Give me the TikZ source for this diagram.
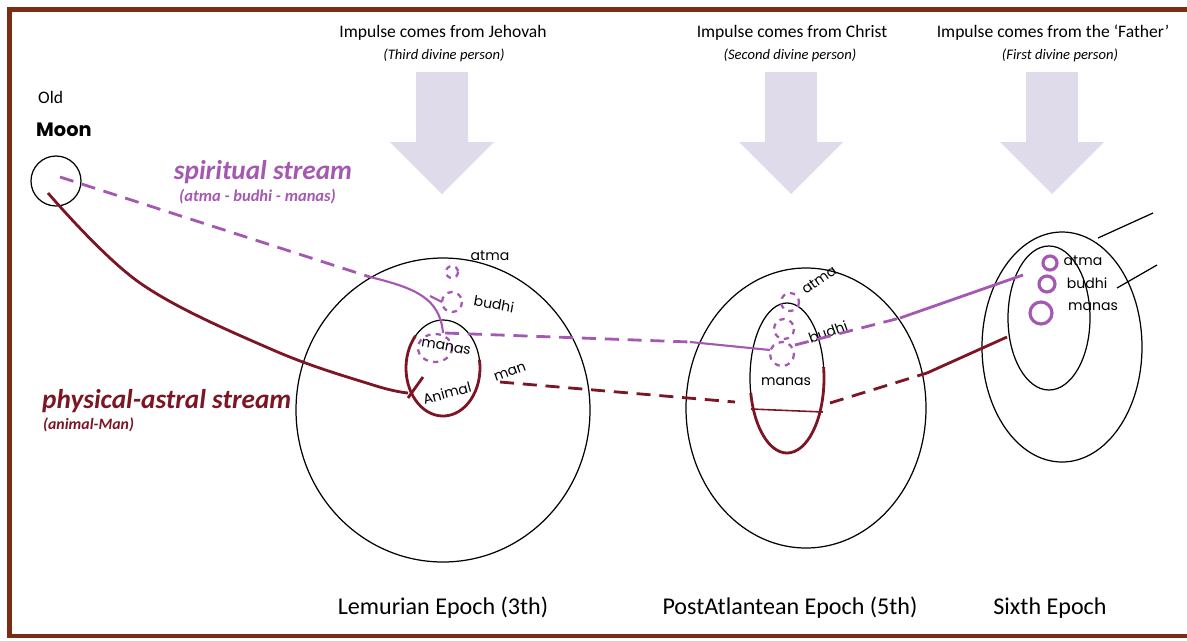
\documentclass[tikz,border=0pt]{standalone}
\usepackage{fontspec}
\setmainfont{Carlito}
\newfontfamily\handfont{Poppins}
\usepackage{tikz}

\definecolor{framecol}{RGB}{122,44,20}
\definecolor{spiritcol}{RGB}{165,88,178}
\definecolor{physcol}{RGB}{125,22,36}
\definecolor{impulsecol}{RGB}{223,219,234}

\tikzset{
  hand/.style={font=\handfont\fontsize{8}{9}\selectfont, inner sep=0pt},
  spirit/.style={spiritcol, line width=1.6pt},
  phys/.style={physcol, line width=1.6pt},
  dashstream/.style={dash pattern=on 8pt off 5pt},
  outline/.style={black, line width=0.7pt}
}

\begin{document}
\begin{tikzpicture}[x=0.02cm, y=-0.02cm]
  \useasboundingbox (0,0) rectangle (1187,640);

  % Rahmen
  \draw[framecol, line width=2.4pt] (1190,9.5) -- (9.5,9.5) -- (9.5,636) -- (1190,636);

  % Impulse von oben
  \foreach \x in {442,791,1052} {
    \fill[impulsecol] (\x-26,72) -- (\x+26,72) -- (\x+26,142) -- (\x+52,142)
      -- (\x,194) -- (\x-52,142) -- (\x-26,142) -- cycle;
  }
  \node (imp1) at (443,33) {\fontsize{10}{12}\selectfont Impulse comes from Jehovah};
  \node (sub1) at (444,55) {\fontsize{8.3}{10}\selectfont\itshape (Third divine person)};
  \node (imp2) at (792,33) {\fontsize{10}{12}\selectfont Impulse comes from Christ};
  \node (sub2) at (790,55) {\fontsize{8.3}{10}\selectfont\itshape (Second divine person)};
  \node (imp3) at (1053,33) {\fontsize{10}{12}\selectfont Impulse comes from the `Father'};
  \node (sub3) at (1060,55) {\fontsize{8.3}{10}\selectfont\itshape (First divine person)};

  % Alter Mond
  \node[anchor=west] (old) at (32,97) {\fontsize{10}{12}\selectfont Old};
  \node[anchor=west, font=\handfont\bfseries\fontsize{11}{12}\selectfont] (moon) at (30,130) {Moon};
  \draw[outline] (56,181) circle (25);

  % Beschriftung der Stroeme
  \node (spiritlbl) at (263,172) {\fontsize{15.5}{17}\selectfont\bfseries\itshape\color{spiritcol} spiritual stream};
  \node[anchor=west] (spiritsub) at (173,197) {\fontsize{9.4}{11}\selectfont\bfseries\itshape\color{spiritcol} (atma - budhi - manas)};
  \node[anchor=west] (physlbl) at (36,401) {\fontsize{15.5}{17}\selectfont\bfseries\itshape\color{physcol} physical-astral stream};
  \node[anchor=west] (physsub) at (37,425) {\fontsize{9}{11}\selectfont\bfseries\itshape\color{physcol} (animal-Man)};

  % Lemurische Epoche
  \draw[outline] (443,410) ellipse (147 and 152);
  \draw[outline] (443,368) ellipse (37 and 48);
  \draw[phys] (443,368) ++(222:37 and 48) arc[start angle=222, end angle=-10, x radius=37, y radius=48];
  \draw[phys] (423,377) -- (408,398);
  \draw[spirit, dashed, line width=1.3pt] (452,272) circle (6);
  \draw[spirit, dashed, line width=1.3pt] (452,302) circle (10);
  \draw[spirit, dashed, line width=1.3pt] (435,348) ellipse (17 and 14);
  \node[hand] (atmaA) at (490,256) {atma};
  \node[hand, rotate=-10] (budhiA) at (494,304) {budhi};
  \node[hand, rotate=-10] (manasA) at (446,347) {manas};
  \node[hand, rotate=15] (animalA) at (447,393) {Animal};
  \node[hand, rotate=20] (manA) at (510,372) {man};

  % Nachatlantische Epoche
  \draw[outline] (806,408) ellipse (120 and 140);
  \draw[outline] (787,378) ellipse (37 and 75);
  \draw[phys] (787,378) ++(168.5:37 and 75) arc[start angle=168.5, end angle=-8.4, x radius=37, y radius=75];
  \draw[spirit, dashed, line width=1.3pt] (790,302) circle (9);
  \draw[spirit, dashed, line width=1.3pt] (784,329) circle (10);
  \draw[spirit, dashed, line width=1.3pt] (782,354) circle (12);
  \node[hand, rotate=35] (atmaB) at (819,280) {atma};
  \node[hand, rotate=20] (budhiB) at (828,332) {budhi};
  \node[hand] (manasB) at (786,382) {manas};

  % Sechste Epoche
  \draw[outline] (1062,347) ellipse (80 and 115);
  \draw[outline] (1049,318) ellipse (41 and 72);
  \draw[spirit, line width=1.8pt] (1050,263) circle (7);
  \draw[spirit, line width=1.8pt] (1047,284) circle (8);
  \draw[spirit, line width=1.8pt] (1041,313) circle (11);
  \node[hand] (atmaC) at (1083,261) {atma};
  \node[hand] (budhiC) at (1087,283) {budhi};
  \node[hand] (manasC) at (1093,307) {manas};
  \draw[outline] (1098,238) -- (1153,213);
  \draw[outline] (1117,288) -- (1157,265);

  % Geistiger Strom
  \draw[spirit, dashstream] (60,177) -- (370,277);
  \draw[spirit, line width=1.2pt] (370,277) .. controls (415,288) and (440,298) .. (443,333);
  \draw[spirit, line width=1.2pt] (430,296) -- (442,302);
  \draw[spirit, dashstream] (445,333) -- (690,342);
  \draw[spirit, line width=1.2pt] (690,342) -- (770,350);
  \draw[spirit, dashstream] (795,345) -- (900,318);
  \draw[spirit] (900,318) -- (1023,275);

  % Physisch-astraler Strom
  \draw[phys] plot[smooth, tension=0.6] coordinates {(48,193) (140,283) (273,350) (373,385) (408,393)};
  \draw[phys, dashstream] (500,382) -- (735,402);
  \draw[physcol, line width=0.9pt] (751,409) -- (823,412);
  \draw[phys, dashstream] (830,403) -- (927,373);
  \draw[phys] (927,373) -- (1007,337);

  % Epochen
  \node (lem) at (443,608) {\fontsize{13.7}{16}\selectfont Lemurian Epoch (3th)};
  \node (post) at (790,608) {\fontsize{13.7}{16}\selectfont PostAtlantean Epoch (5th)};
  \node (sixth) at (1050,608) {\fontsize{13.7}{16}\selectfont Sixth Epoch};
\end{tikzpicture}
\end{document}
